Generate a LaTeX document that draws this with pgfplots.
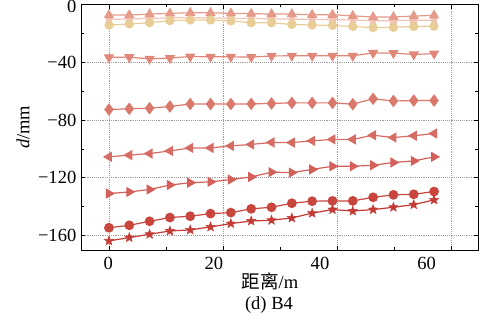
\documentclass[border=0pt]{standalone}
\usepackage{pgfplots}
\pgfplotsset{compat=1.18}
\usepackage{pgfplotstable}
\usepackage{fontspec}
\setmainfont{Liberation Serif}
\newfontfamily\cjk{Noto Sans CJK SC}
\usetikzlibrary{plotmarks}

\definecolor{c1}{HTML}{E59A8A}
\definecolor{c2}{HTML}{F2C4B6}
\definecolor{c3}{HTML}{E9CD96}
\definecolor{c4}{HTML}{E0877A}
\definecolor{c5}{HTML}{DA786C}
\definecolor{c6}{HTML}{D66C64}
\definecolor{c7}{HTML}{D4605A}
\definecolor{c8}{HTML}{C8463E}
\definecolor{c9}{HTML}{C43A34}

\pgfdeclareplotmark{fstar}{%
  \pgfpathmoveto{\pgfpointpolar{90}{\pgfplotmarksize}}%
  \pgfpathlineto{\pgfpointpolar{126}{0.42\pgfplotmarksize}}%
  \pgfpathlineto{\pgfpointpolar{162}{\pgfplotmarksize}}%
  \pgfpathlineto{\pgfpointpolar{198}{0.42\pgfplotmarksize}}%
  \pgfpathlineto{\pgfpointpolar{234}{\pgfplotmarksize}}%
  \pgfpathlineto{\pgfpointpolar{270}{0.42\pgfplotmarksize}}%
  \pgfpathlineto{\pgfpointpolar{306}{\pgfplotmarksize}}%
  \pgfpathlineto{\pgfpointpolar{342}{0.42\pgfplotmarksize}}%
  \pgfpathlineto{\pgfpointpolar{18}{\pgfplotmarksize}}%
  \pgfpathlineto{\pgfpointpolar{54}{0.42\pgfplotmarksize}}%
  \pgfpathclose
  \pgfusepathqfillstroke}

\pgfplotstableread{
x        s1     s2     s3     s4     s5     s6      s7      s8      s9
0        -7.3  -10.3  -14.2  -36.6  -72.7  -105.5  -130.9  -154.6  -163.7
3.5625   -7.3  -10.0  -13.5  -36.5  -72.2  -104.3  -129.8  -152.9  -161.4
7.125    -6.6   -9.6  -12.6  -37.6  -71.8  -103.2  -128.1  -150.1  -159.1
10.6875  -6.1   -9.2  -11.2  -37.1  -70.6  -101.4  -125.0  -147.5  -156.8
14.25    -5.7   -9.2  -10.7  -36.0  -68.9   -99.3  -123.4  -146.6  -156.1
17.8125  -5.7   -9.2  -10.7  -36.2  -68.9   -99.3  -122.8  -144.8  -154.0
21.375   -6.1   -9.6  -11.4  -36.2  -68.9   -97.9  -121.2  -144.1  -151.7
24.9375  -6.3   -9.6  -12.6  -36.4  -68.8   -96.9  -119.4  -141.5  -149.9
28.5     -6.6   -9.9  -12.6  -35.6  -68.5   -95.5  -116.1  -140.4  -149.4
32.0625  -6.6  -10.1  -13.8  -35.5  -68.1   -95.6  -116.4  -137.6  -147.8
35.625   -7.1  -10.3  -14.2  -35.5  -68.1   -94.4  -114.2  -136.2  -144.5
39.1875  -7.1  -10.3  -14.5  -35.5  -68.1   -93.4  -112.0  -136.0  -142.0
42.75    -7.8  -10.8  -15.2  -35.5  -69.0   -93.4  -112.0  -136.0  -143.0
46.3125  -8.7  -11.2  -16.0  -33.5  -65.3   -90.5  -111.3  -133.5  -142.0
49.875   -8.6  -11.2  -15.8  -33.6  -66.8   -92.1  -109.4  -131.8  -140.4
53.4375  -8.0  -11.0  -15.2  -34.6  -66.5   -90.9  -108.3  -131.4  -138.6
57       -7.5  -10.8  -15.0  -34.0  -66.5   -89.3  -105.5  -129.5  -135.3
}\datatable

\begin{document}
\begin{tikzpicture}
\begin{axis}[
  at={(0,0)}, anchor=south west,
  scale only axis,
  width=297.75pt, height=184.1pt,
  xmin=-4.9, xmax=64.7,
  ymin=-170, ymax=0,
  font=\fontsize{13.9}{16}\selectfont,
  axis line style={line width=0.6pt, black},
  tick style={line width=0.5pt, black},
  major tick length=3pt, minor tick length=2.2pt,
  tick align=inside,
  xtick={0,20,40,60},
  xticklabels={\empty,\empty,\empty,\empty},
  minor x tick num=1,
  extra x ticks={-0.1,18.4,37,55.7},
  extra x tick labels={0,20,40,60},
  extra x tick style={grid=none, major tick length=0pt, xticklabel style={yshift=-1.5pt}},
  ytick={-160,-120,-80,-40,0},
  yticklabels={−160,−120,−80,−40,\smash{\raisebox{-6.3pt}{0}}},
  minor y tick num=1,
  grid=major,
  major grid style={densely dotted, gray!75, line width=0.6pt},
  xlabel={{\cjk 距离}/m},
  xlabel style={at={(axis description cs:0.476,-0.1263)}, anchor=center},
  ylabel={\textit{d}/mm},
  ylabel style={at={(axis description cs:-0.1461,0.5)}, anchor=center},
  title={(d) B4},
  every axis title shift=0pt,
  title style={at={(axis description cs:0.4735,-0.226)}, anchor=center},
  every axis plot/.append style={line width=0.9pt, mark size=3pt},
]
\addplot[c2, mark=square*, mark size=2pt, mark options={fill=c2, draw=c2}] table[x=x, y=s2] {\datatable};
\addplot[c1, mark=triangle*, mark size=3.6pt, mark options={fill=c1, draw=c1}] table[x=x, y=s1] {\datatable};
\addplot[c3, mark=*, mark options={fill=c3, draw=c3}] table[x=x, y=s3] {\datatable};
\addplot[c4, mark=triangle*, mark size=3.6pt, mark options={rotate=180, fill=c4, draw=c4}] table[x=x, y=s4] {\datatable};
\addplot[c5, mark=diamond*, mark size=4pt, mark options={fill=c5, draw=c5}] table[x=x, y=s5] {\datatable};
\addplot[c6, mark=triangle*, mark size=3.6pt, mark options={rotate=90, fill=c6, draw=c6}] table[x=x, y=s6] {\datatable};
\addplot[c7, mark=triangle*, mark size=3.6pt, mark options={rotate=270, fill=c7, draw=c7}] table[x=x, y=s7] {\datatable};
\addplot[c8, mark=*, mark size=3.2pt, mark options={fill=c8, draw=c8}] table[x=x, y=s8] {\datatable};
\addplot[c9, mark=fstar, mark size=3.6pt, mark options={fill=c9, draw=c9, line width=0.4pt}] table[x=x, y=s9] {\datatable};
\end{axis}
\pgfresetboundingbox
\path[use as bounding box] (-60.75pt,-53.25pt) rectangle (300pt,187.5pt);
\end{tikzpicture}
\end{document}
